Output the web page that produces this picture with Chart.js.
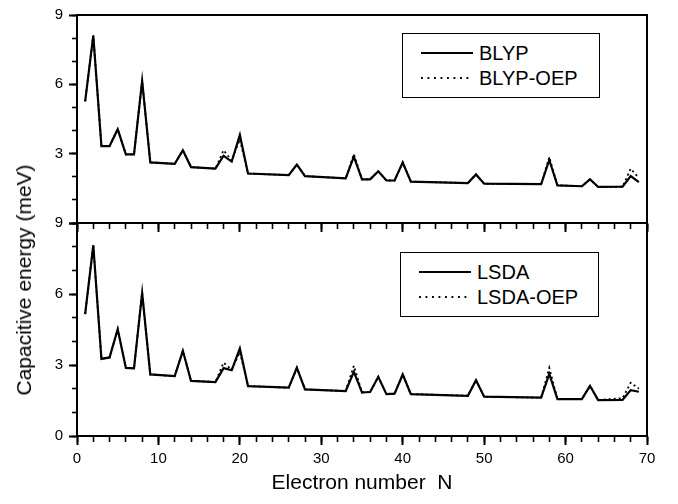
<!DOCTYPE html>
<html>
<head>
<meta charset="utf-8">
<script src="https://cdn.jsdelivr.net/npm/chart.js@4/dist/chart.umd.min.js"></script>
<style>
  body { margin: 0; background: #fff; }
  #wrap { position: relative; width: 678px; height: 504px; font-family: "Liberation Sans", Arial, sans-serif; }
  canvas { position: absolute; left: 0; top: 0; }
  .legend { position: absolute; border: 1.5px solid #000; background: #fff; box-sizing: border-box; }
  .legend .row { position: absolute; left: 0; height: 24px; line-height: 24px; font-size: 20px; color: #000; }
  .legend .solid { position: absolute; left: 18px; top: 11px; width: 52px; height: 2px; background: #000; }
  .legend .dots { position: absolute; left: 18px; top: 11px; width: 52px; height: 2px;
    background: linear-gradient(to right, #000 2px, transparent 2px) 0 0 / 6.5px 2px repeat-x; }
  .legend .txt { position: absolute; top: 0; white-space: nowrap; }
  #ytitle { position: absolute; left: 24px; top: 280px; transform: translate(-50%, -50%) rotate(-90deg);
    font-size: 21px; white-space: nowrap; color: #000; }
</style>
</head>
<body>
<div id="wrap">
  <canvas id="bottom" width="678" height="504"></canvas>
  <canvas id="top" width="678" height="240"></canvas>
  <div id="ytitle">Capacitive energy (meV)</div>
  <div class="legend" style="left:402px;top:33px;width:198px;height:65px;">
    <div class="row" style="top:7px;"><div class="solid"></div><span class="txt" style="left:76px">BLYP</span></div>
    <div class="row" style="top:32px;"><div class="dots"></div><span class="txt" style="left:76px">BLYP-OEP</span></div>
  </div>
  <div class="legend" style="left:400px;top:252px;width:199px;height:65px;">
    <div class="row" style="top:7px;"><div class="solid"></div><span class="txt" style="left:76px">LSDA</span></div>
    <div class="row" style="top:32px;"><div class="dots"></div><span class="txt" style="left:76px">LSDA-OEP</span></div>
  </div>
</div>
<script>
// electron numbers where the curves change slope
const N = [1, 2, 3, 4, 5, 6, 7, 8, 9, 12, 13, 14, 17, 18, 19, 20, 21, 26, 27, 28,
  33, 34, 35, 36, 37, 38, 39, 40, 41, 48, 49, 50, 57, 58, 59, 62, 63, 64, 67, 68, 69];

// capacitive energy (meV)
const blyp = [5.26, 8.11, 3.33, 3.33, 4.06, 2.97, 2.97, 6.15, 2.62, 2.56, 3.15, 2.42, 2.35, 2.91, 2.66, 3.81, 2.14, 2.07, 2.53, 2.03,
  1.93, 2.87, 1.89, 1.89, 2.24, 1.84, 1.84, 2.62, 1.79, 1.73, 2.10, 1.70, 1.68, 2.73, 1.63, 1.59, 1.89, 1.56, 1.57, 2.03, 1.77];
const blypOep = [5.26, 8.11, 3.33, 3.33, 4.06, 2.97, 2.97, 6.15, 2.62, 2.56, 3.15, 2.42, 2.35, 3.15, 2.70, 3.62, 2.14, 2.07, 2.53, 2.03,
  1.93, 2.98, 1.89, 1.89, 2.24, 1.84, 1.84, 2.62, 1.79, 1.73, 2.10, 1.70, 1.68, 2.85, 1.63, 1.59, 1.89, 1.56, 1.57, 2.35, 1.95];
const lsda = [5.15, 8.06, 3.26, 3.32, 4.51, 2.88, 2.86, 6.05, 2.60, 2.53, 3.60, 2.33, 2.28, 2.87, 2.78, 3.70, 2.11, 2.04, 2.88, 1.97,
  1.90, 2.71, 1.84, 1.86, 2.50, 1.77, 1.79, 2.60, 1.77, 1.70, 2.36, 1.66, 1.62, 2.62, 1.56, 1.56, 2.12, 1.52, 1.53, 1.94, 1.87];
const lsdaOep = [5.15, 8.06, 3.26, 3.32, 4.51, 2.88, 2.86, 6.05, 2.60, 2.53, 3.60, 2.33, 2.28, 3.10, 2.80, 3.55, 2.11, 2.04, 2.88, 1.97,
  1.90, 2.97, 1.84, 1.86, 2.50, 1.77, 1.79, 2.60, 1.77, 1.70, 2.36, 1.66, 1.62, 2.88, 1.56, 1.56, 2.12, 1.52, 1.60, 2.25, 2.00];

const xMin = 0, xMax = 70, xMinorStep = 2, xMajorStep = 10;
const yMin = 0, yMax = 9, yMinorStep = 1, yMajorStep = 3;

const font = { family: '"Liberation Sans", Arial, sans-serif', size: 15 };
const toPoints = vals => N.map((n, i) => ({ x: n, y: vals[i] }));

function lineSet(label, vals, dotted) {
  return {
    label,
    data: toPoints(vals),
    xAxisID: 'x',
    yAxisID: 'y',
    borderColor: '#000',
    borderWidth: dotted ? 1.8 : 2.2,
    borderDash: dotted ? [2, 3] : [],
    pointRadius: 0,
    tension: 0,
    fill: false,
    order: dotted ? 1 : 0
  };
}

const stepTicks = (lo, hi, step) => s => {
  s.ticks = [];
  for (let v = lo; v <= hi; v += step) s.ticks.push({ value: v });
};

function makeOptions(opts) {
  const frame = { color: '#000', width: 2 };
  return {
    responsive: false,
    animation: false,
    layout: { padding: { left: 0, right: 31, top: opts.padTop, bottom: 0 } },
    plugins: { legend: { display: false }, tooltip: { enabled: false } },
    scales: {
      // major x ticks with labels (outer box)
      x: {
        type: 'linear', min: xMin, max: xMax, position: 'bottom', weight: 1,
        afterBuildTicks: stepTicks(xMin, xMax, xMajorStep),
        ticks: {
          autoSkip: false, maxRotation: 0, color: '#000', font, padding: 5,
          callback: v => opts.xLabels ? v : ''
        },
        grid: { drawOnChartArea: false, tickLength: 9, tickColor: '#000', tickWidth: 2 },
        border: frame,
        title: {
          display: !!opts.xTitle, text: opts.xTitle || '', color: '#000',
          font: { family: font.family, size: 21 }, padding: { top: 0, bottom: 8 }
        },
        afterFit: s => { s.height = opts.xHeight; }
      },
      // minor x ticks, zero size so they sit on the same line
      xMinor: {
        type: 'linear', min: xMin, max: xMax, position: 'bottom', weight: 0,
        afterBuildTicks: stepTicks(xMin, xMax, xMinorStep),
        ticks: { autoSkip: false, callback: () => '' },
        grid: { drawOnChartArea: false, tickLength: 6, tickColor: '#000', tickWidth: 1.6 },
        border: { display: false },
        afterFit: s => { s.height = 0; }
      },
      xTop: {
        type: 'linear', min: xMin, max: xMax, position: 'top',
        ticks: { display: false }, grid: { display: false },
        border: frame,
        afterFit: s => { s.height = 0; }
      },
      y: {
        type: 'linear', min: yMin, max: yMax, position: 'left', weight: 1,
        afterBuildTicks: stepTicks(yMin, yMax, yMajorStep),
        ticks: {
          color: '#000', font, padding: 6,
          callback: v => (opts.hideZero && v === 0) ? '' : v
        },
        grid: { drawOnChartArea: false, tickLength: 8, tickColor: '#000', tickWidth: 2 },
        border: frame,
        afterFit: s => { s.width = 77; }
      },
      yMinor: {
        type: 'linear', min: yMin, max: yMax, position: 'left', weight: 0,
        afterBuildTicks: stepTicks(yMin, yMax, yMinorStep),
        ticks: { callback: () => '' },
        grid: { drawOnChartArea: false, tickLength: 5, tickColor: '#000', tickWidth: 1.6 },
        border: { display: false },
        afterFit: s => { s.width = 0; }
      },
      yRight: {
        type: 'linear', min: yMin, max: yMax, position: 'right',
        ticks: { display: false }, grid: { display: false },
        border: frame,
        afterFit: s => { s.width = 0; }
      }
    }
  };
}

new Chart(document.getElementById('top').getContext('2d'), {
  type: 'line',
  data: { datasets: [lineSet('BLYP', blyp, false), lineSet('BLYP-OEP', blypOep, true)] },
  options: makeOptions({ padTop: 10, xHeight: 17, xLabels: false, hideZero: true })
});

new Chart(document.getElementById('bottom').getContext('2d'), {
  type: 'line',
  data: { datasets: [lineSet('LSDA', lsda, false), lineSet('LSDA-OEP', lsdaOep, true)] },
  options: makeOptions({ padTop: 223, xHeight: 68, xLabels: true, hideZero: false, xTitle: 'Electron number  N' })
});
</script>
</body>
</html>
